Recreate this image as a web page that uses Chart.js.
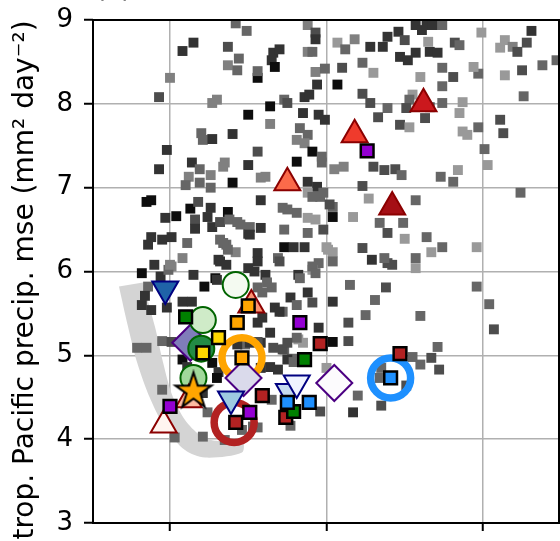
<!DOCTYPE html>
<html>
<head>
<meta charset="utf-8">
<script src="https://cdn.jsdelivr.net/npm/chart.js@4.4.0/dist/chart.umd.min.js"></script>
<style>
  html, body { margin: 0; padding: 0; background: #fff; overflow: hidden; }
  #wrap { width: 560px; height: 541px; }
</style>
</head>
<body>
<div id="wrap"><canvas id="chart"></canvas></div>
<script>
// axis ticks
const yTicks = [3, 4, 5, 6, 7, 8, 9];
const xTicks = [1, 2, 3];
const yTitle = 'trop. Pacific precip. mse (mm² day⁻²)';

// grey cloud: x, y and grey level (0 = black, 1 = white)
const greyX = [
  1.42,1.49,1.08,1.15,1.37,1.44,1.37,1.43,1.00,0.93,
  1.56,1.56,1.64,1.50,1.64,1.27,1.30,1.20,1.21,1.27,
  1.40,0.98,0.93,1.14,1.19,1.12,1.10,1.26,1.26,1.19,
  1.35,1.34,1.50,1.56,1.40,1.58,1.61,1.58,0.85,0.88,
  1.13,1.18,1.26,1.37,0.97,1.04,1.16,1.24,1.27,1.32,
  1.38,1.43,1.16,0.88,0.86,0.95,1.01,1.11,1.32,1.36,
  1.42,1.50,1.51,1.58,1.08,0.90,1.01,1.31,1.56,1.56,
  0.82,0.94,0.99,1.15,1.29,1.54,1.88,1.93,1.93,1.66,
  1.70,1.65,1.67,1.88,1.91,2.07,2.18,2.12,2.10,2.07,
  1.93,1.99,1.94,1.86,1.89,1.73,1.75,1.85,1.95,1.99,
  1.83,1.88,1.81,1.86,1.91,1.97,1.97,1.81,2.05,2.11,
  1.88,1.94,1.88,1.96,2.28,2.36,2.39,2.46,2.50,2.57,
  2.61,2.64,2.68,2.74,2.47,2.52,2.57,2.65,2.66,2.71,
  2.82,2.85,2.99,3.11,3.14,3.19,3.22,3.28,3.31,3.47,
  3.38,3.25,3.14,2.97,2.94,2.74,2.81,2.60,2.74,2.55,
  2.53,2.51,2.66,2.74,2.87,2.85,2.63,2.47,2.53,2.87,
  2.90,2.97,3.11,3.13,3.01,3.03,2.84,2.73,2.81,3.24,
  3.26,2.39,2.33,2.28,2.23,2.23,2.30,2.30,2.37,2.44,
  2.48,2.23,2.27,2.34,2.39,2.49,2.50,2.57,2.64,2.74,
  2.67,2.96,2.57,2.57,2.39,2.42,2.29,2.37,2.23,2.04,
  2.00,2.04,2.04,2.17,1.98,1.88,1.73,1.79,1.86,1.73,
  1.72,1.81,1.88,1.93,1.95,1.91,1.82,1.91,1.98,2.02,
  1.75,1.45,1.51,1.34,1.37,1.00,1.22,1.30,1.32,1.36,
  1.61,1.65,1.69,1.70,1.91,2.04,2.01,1.93,1.83,1.77,
  1.81,1.88,1.91,1.72,2.04,2.15,2.38,2.31,2.25,2.14,
  2.60,2.96,3.04,3.07,1.95,2.04,2.14,1.73,1.78,1.82,
  1.85,2.71,2.67,2.72,2.60,2.55,2.35,2.34,2.51,2.00,
  2.20,2.35,2.17,1.96,1.77,1.64,1.58,1.48,1.72,1.81,
  1.75,1.64,1.69,1.65,1.53,1.56,0.86,0.84,0.82,0.88,
  0.98,1.08,1.14,0.79,0.85,0.95,1.01,1.08,1.11,1.27,
  1.31,1.30,0.95,1.21,1.03,1.21,1.35,1.46,1.43,1.56,
  1.56,1.59,1.67,1.62,1.50,1.59,1.70,1.56,1.66,1.75,
  1.51,1.58,1.79,1.24
];
const greyY = [
  8.96,8.87,8.63,8.73,8.68,8.54,8.46,8.40,8.31,8.08,
  8.31,8.39,7.97,7.87,7.76,8.01,8.05,7.65,7.57,7.58,
  7.64,7.45,7.22,7.30,7.22,7.13,7.03,7.15,7.00,7.06,
  7.30,7.25,7.27,7.43,7.06,7.12,7.13,6.85,6.83,6.85,
  6.75,6.83,6.76,6.71,6.64,6.66,6.62,6.65,6.53,6.59,
  6.62,6.59,6.51,6.41,6.32,6.38,6.41,6.34,6.38,6.32,
  6.23,6.45,6.53,6.52,6.16,6.08,6.06,6.14,6.22,6.12,
  5.98,5.94,6.02,5.96,5.92,6.00,8.94,8.85,8.77,8.61,
  8.65,8.52,8.44,8.62,8.62,8.73,8.77,8.65,8.43,8.23,
  8.38,8.42,8.23,8.08,8.11,8.05,8.01,7.89,7.87,7.81,
  7.71,7.63,7.57,7.53,7.43,7.37,7.30,7.31,7.22,7.25,
  7.07,7.01,6.94,6.89,8.68,8.68,8.80,8.86,8.76,8.94,
  8.88,8.94,8.94,8.94,8.56,8.52,8.61,8.74,8.62,8.61,
  8.73,8.70,8.85,8.67,8.76,8.68,8.62,8.73,8.87,8.52,
  8.46,8.40,8.34,8.36,8.44,8.43,8.32,8.32,8.21,8.11,
  8.05,7.95,7.96,8.01,8.02,7.89,7.83,7.75,7.72,7.67,
  7.63,7.72,7.81,7.65,7.46,7.27,7.21,7.13,7.07,6.94,
  8.09,7.95,7.84,8.01,8.12,8.49,8.37,7.25,7.21,7.22,
  7.15,7.02,6.87,6.58,6.46,6.58,6.39,6.85,6.41,6.29,
  6.23,6.29,6.16,6.04,6.10,6.08,6.14,6.16,6.28,6.23,
  6.29,6.65,6.77,6.65,6.50,6.46,6.29,6.29,6.29,6.50,
  6.76,6.70,6.64,6.62,6.10,6.02,5.96,6.89,6.94,6.80,
  6.74,6.56,6.44,6.34,6.26,6.08,5.82,5.90,6.12,6.08,
  5.96,5.81,6.16,6.12,6.06,6.12,6.26,5.98,5.92,5.69,
  5.60,5.75,5.63,5.52,5.64,5.84,5.81,5.66,5.48,5.39,
  5.47,5.82,5.61,5.31,5.33,5.16,5.17,5.07,4.96,5.19,
  5.15,5.10,4.97,4.83,4.89,4.98,4.85,4.73,4.64,4.85,
  4.52,4.40,4.32,4.33,4.16,5.27,5.15,5.13,5.07,5.21,
  4.95,4.86,4.83,4.47,4.15,4.14,5.82,5.71,5.60,5.54,
  5.57,5.64,5.64,5.09,5.09,5.17,5.16,4.95,4.86,4.91,
  4.80,4.73,4.59,4.55,4.02,4.03,3.99,4.11,5.13,5.16,
  5.81,5.75,5.57,5.87,6.04,5.45,5.52,5.39,5.09,5.15,
  5.15,4.85,4.92,4.32
];
const greyTone = [
  .4,.4,.2,.2,.3,.4,.5,.4,.5,.3,
  .05,.4,.05,.05,.5,.5,.5,.4,.4,.2,
  .2,.2,.2,.2,.4,.5,.4,.5,.4,.4,
  .5,.5,.2,.3,.05,.5,.5,.2,.05,.05,
  .05,.3,.2,.05,.2,.05,.3,.2,.2,.3,
  .4,.4,.2,.2,.2,.2,.2,.4,.4,.4,
  .5,.2,.4,.2,.5,.2,.5,.2,.2,.2,
  .05,.2,.4,.2,.05,.2,.5,.3,.2,.2,
  .2,.2,.05,.5,.4,.6,.5,.4,.3,.05,
  .5,.4,.2,.2,.2,.4,.3,.2,.2,.2,
  .4,.4,.5,.5,.05,.4,.4,.05,.5,.5,
  .2,.2,.6,.4,.2,.2,.2,.2,.3,.2,
  .2,.2,.2,.4,.2,.2,.2,.6,.2,.2,
  .3,.4,.6,.6,.6,.5,.3,.3,.2,.4,
  .4,.3,.6,.4,.6,.4,.3,.6,.4,.6,
  .4,.3,.3,.4,.6,.6,.3,.3,.6,.6,
  .6,.4,.3,.3,.4,.6,.6,.4,.4,.4,
  .4,.4,.3,.3,.3,.4,.6,.3,.3,.3,
  .4,.3,.6,.4,.3,.4,.6,.4,.4,.4,
  .6,.6,.4,.6,.3,.3,.2,.4,.3,.6,
  .6,.05,.4,.6,.3,.4,.05,.2,.2,.4,
  .4,.4,.6,.6,.4,.6,.2,.4,.4,.3,
  .4,.4,.2,.4,.4,.5,.05,.2,.2,.2,
  .2,.4,.4,.3,.4,.4,.6,.4,.4,.2,
  .4,.2,.3,.4,.2,.4,.3,.4,.4,.3,
  .4,.4,.4,.3,.2,.05,.3,.4,.4,.6,
  .6,.4,.3,.3,.4,.4,.4,.4,.3,.6,
  .4,.3,.2,.3,.4,.2,.2,.4,.3,.4,
  .2,.2,.2,.4,.4,.4,.4,.2,.2,.2,
  .2,.2,.2,.4,.4,.4,.3,.05,.2,.05,
  .2,.05,.4,.2,.4,.4,.4,.4,.2,.3,
  .4,.4,.2,.4,.2,.2,.2,.2,.3,.3,
  .2,.2,.4,.4
];

// shaded band outline (outer edge, then back along the inner edge)
const bandX = [0.674,0.732,0.789,0.872,0.968,1.096,1.224,1.460,
               1.460,1.288,1.192,1.096,1.013,0.955,0.904,0.827];
const bandY = [5.82,5.34,4.92,4.49,4.14,3.87,3.78,3.84,
               3.99,3.98,4.05,4.23,4.53,4.92,5.34,5.87];

// coloured markers, [x, y]
const rings        = [[1.46,4.97],[1.41,4.20],[2.41,4.73]];
const diamonds     = [[1.13,5.15],[1.47,4.73],[2.05,4.67]];
const circles      = [[1.42,5.84],[1.21,5.42],[1.20,5.08],[1.15,4.73]];
const upTriangles  = [[1.75,7.06],[2.18,7.63],[2.62,8.00],[2.42,6.77],[1.52,5.60],[0.96,4.17],[1.12,4.47]];
const downTriangles= [[0.97,5.79],[1.39,4.48],[1.76,4.57],[1.81,4.67]];
const star         = [[1.15,4.57]];
const redSquares   = [[1.96,5.14],[1.59,4.52],[1.42,4.20],[2.47,5.02],[1.74,4.26]];
const purpleSquares= [[1.83,5.39],[1.00,4.39],[1.51,4.32],[2.26,7.44]];
const orangeSquares= [[1.50,5.59],[1.43,5.39],[1.46,4.97]];
const goldSquares  = [[1.31,5.21],[1.21,5.03]];
const greenSquares = [[1.10,5.46],[1.86,4.95],[1.79,4.33]];
const blueSquares  = [[1.75,4.44],[1.89,4.44],[2.41,4.73]];

const FONT = '"DejaVu Sans", Verdana, sans-serif';

function pts(arr) {
  return arr.map(function (p) { return { x: p[0], y: p[1] }; });
}

function greyColour(t) {
  const v = Math.round(t * 255);
  return 'rgb(' + v + ',' + v + ',' + v + ')';
}

function makeStar(R, fill, edge, lw) {
  const size = Math.ceil(2 * R + 2 * lw + 2);
  const c = document.createElement('canvas');
  c.width = size; c.height = size;
  const g = c.getContext('2d');
  const cx = size / 2, cy = size / 2, r = R * 0.382;
  g.beginPath();
  for (let i = 0; i < 10; i++) {
    const a = -Math.PI / 2 + i * Math.PI / 5;
    const rr = i % 2 ? r : R;
    g.lineTo(cx + rr * Math.cos(a), cy + rr * Math.sin(a));
  }
  g.closePath();
  g.fillStyle = fill;
  g.fill();
  g.lineJoin = 'miter';
  g.lineWidth = lw;
  g.strokeStyle = edge;
  g.stroke();
  return c;
}

function squares(data, fill, order) {
  return { data: pts(data), pointStyle: 'rect', pointRadius: 9, backgroundColor: fill,
           borderColor: '#000', borderWidth: 2.5, order: order };
}

const greyPoints = greyX.map(function (x, i) { return { x: x, y: greyY[i] }; });

const datasets = [
  {
    data: bandX.map(function (x, i) { return { x: x, y: bandY[i] }; }),
    showLine: true, fill: 'shape', backgroundColor: '#d4d4d4', borderWidth: 0,
    borderColor: 'rgba(0,0,0,0)', pointRadius: 0, tension: 0.3, order: 20
  },
  {
    data: greyPoints, pointStyle: 'rect', pointRadius: 7, borderWidth: 0,
    backgroundColor: greyTone.map(greyColour), order: 19
  },
  {
    data: pts(rings), pointStyle: 'circle', pointRadius: 20, backgroundColor: 'rgba(0,0,0,0)',
    borderColor: ['#ffa500', '#b22222', '#1e90ff'], borderWidth: 7.5, order: 18
  },
  {
    data: pts(diamonds), pointStyle: 'rectRot', pointRadius: 18,
    backgroundColor: ['#807dba', '#dadaeb', '#fcfbfd'], borderColor: '#4b0082', borderWidth: 2, order: 17
  },
  {
    data: pts(circles), pointStyle: 'circle', pointRadius: 13,
    backgroundColor: ['#f4faf1', '#cfebc8', '#238b45', '#a1d99b'], borderColor: '#006400', borderWidth: 2, order: 16
  },
  {
    data: pts(upTriangles), pointStyle: 'triangle', pointRadius: 15,
    backgroundColor: ['#fb6a4a', '#ef3b2c', '#cb181d', '#a50f15', '#fc9272', '#fff5f0', '#fcbba1'],
    borderColor: '#8b0000', borderWidth: 2, order: 15
  },
  {
    data: pts(downTriangles), pointStyle: 'triangle', rotation: 180, pointRadius: 15,
    backgroundColor: ['#1f63a8', '#9ecae1', '#c6dbef', '#eff3ff'],
    borderColor: '#000080', borderWidth: 2, order: 14
  },
  {
    data: pts(star), pointStyle: makeStar(19, '#ffa500', '#000', 2), pointRadius: 20, order: 13
  },
  squares(redSquares, '#b22222', 12),
  squares(purpleSquares, '#9400d3', 11),
  squares(orangeSquares, '#ffa500', 10),
  squares(goldSquares, '#ffd700', 9),
  squares(greenSquares, '#008000', 8),
  squares(blueSquares, '#1e90ff', 7)
];

const framePlugin = {
  id: 'frame',
  afterDatasetsDraw: function (chart) {
    const a = chart.chartArea, ctx = chart.ctx;
    ctx.save();
    ctx.strokeStyle = '#000';
    ctx.lineWidth = 2;
    ctx.strokeRect(a.left, a.top, a.right - a.left, a.bottom - a.top);
    ctx.restore();
  },
  afterDraw: function (chart) {
    const ctx = chart.ctx;
    ctx.save();
    ctx.fillStyle = '#000';
    // panel letter, mostly above the top edge
    ctx.font = '28px ' + FONT;
    ctx.textBaseline = 'alphabetic';
    ctx.textAlign = 'left';
    ctx.fillText('(c)', 95, -3);
    // y axis title
    ctx.translate(33, 280);
    ctx.rotate(-Math.PI / 2);
    ctx.textAlign = 'center';
    ctx.fillText(yTitle, 0, 0);
    ctx.restore();
  }
};

new Chart(document.getElementById('chart').getContext('2d'), {
  type: 'scatter',
  data: { datasets: datasets },
  plugins: [framePlugin],
  options: {
    responsive: true,
    maintainAspectRatio: false,
    animation: false,
    events: [],
    layout: { autoPadding: false, padding: { top: 20, right: 1, left: 0, bottom: 0 } },
    plugins: { legend: { display: false }, tooltip: { enabled: false } },
    scales: {
      x: {
        type: 'linear', min: 0.508, max: 3.486,
        afterBuildTicks: function (s) { s.ticks = xTicks.map(function (v) { return { value: v }; }); },
        afterFit: function (s) { s.height = 18; s.paddingLeft = 0; s.paddingRight = 0; },
        ticks: { display: false },
        border: { display: false },
        grid: { color: '#b0b0b0', lineWidth: 1.5, tickColor: '#000', tickLength: 8, tickWidth: 2 }
      },
      y: {
        type: 'linear', min: 3, max: 9,
        afterBuildTicks: function (s) { s.ticks = yTicks.map(function (v) { return { value: v }; }); },
        afterFit: function (s) { s.width = 93; s.paddingTop = 0; s.paddingBottom = 0; },
        ticks: { color: '#000', padding: 11, font: { family: FONT, size: 26 } },
        border: { display: false },
        grid: { color: '#b0b0b0', lineWidth: 1.5, tickColor: '#000', tickLength: 9, tickWidth: 2 }
      }
    }
  }
});
</script>
</body>
</html>
